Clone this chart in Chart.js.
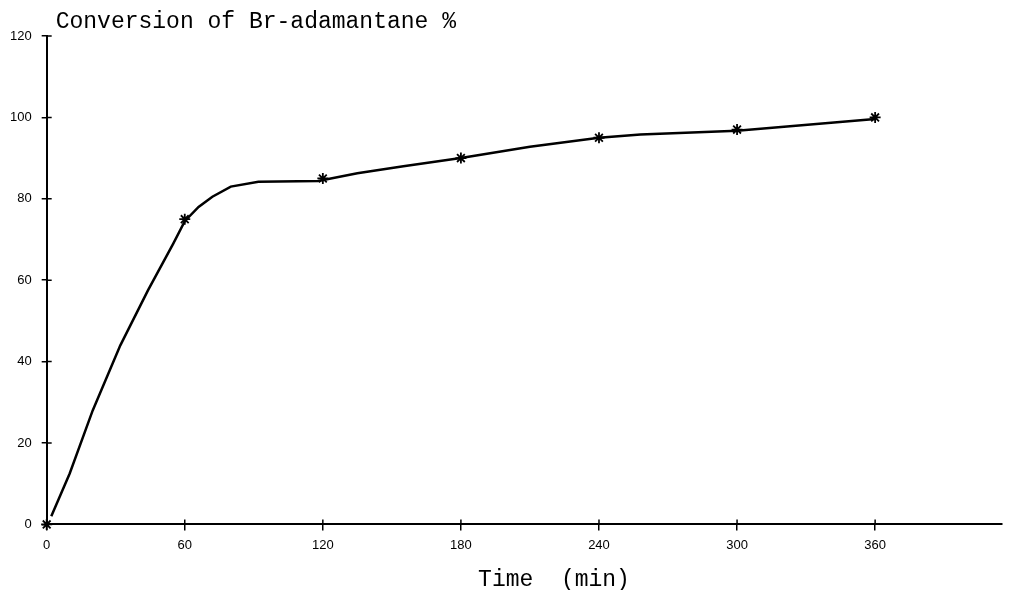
<!DOCTYPE html>
<html>
<head>
<meta charset="utf-8">
<script src="https://cdn.jsdelivr.net/npm/chart.js@4/dist/chart.umd.min.js"></script>
<style>
  html, body { margin: 0; padding: 0; background: #fff; }
  #wrap { width: 1009px; height: 590px; }
</style>
</head>
<body>
<div id="wrap"><canvas id="chart" width="1009" height="590"></canvas></div>
<script>
const chartTitle = "Conversion of Br-adamantane %";
const xTitle = "Time  (min)";

// measured points (asterisks)
const markerTimes = [0, 60, 120, 180, 240, 300, 360];
const markerConv = [0, 75, 85, 90, 95, 97, 100];

// fitted curve
const curveTimes = [2, 10, 20, 32, 44, 55, 60, 66, 72, 80, 92, 118, 135, 155, 180, 210, 240, 258, 300, 360];
const curveConv = [2, 12.5, 28, 44, 57.5, 69, 74.5, 78, 80.5, 83, 84.2, 84.4, 86.3, 88, 90, 92.8, 95, 95.8, 96.7, 99.6];

const xTicks = [0, 60, 120, 180, 240, 300, 360];

const tickFont = { family: '"Liberation Sans", Arial, sans-serif', size: 13 };

// texts in courier style + inner half of the crossing ticks
const extras = {
    id: 'extras',
    afterDraw(chart) {
        const ctx = chart.ctx;
        const xs = chart.scales.x, ys = chart.scales.y;
        ctx.save();
        ctx.strokeStyle = '#000';
        ctx.lineWidth = 1.5;
        ctx.beginPath();
        xs.ticks.forEach(t => {
            if (t.value === 0) return;
            const px = xs.getPixelForValue(t.value);
            ctx.moveTo(px, xs.top);
            ctx.lineTo(px, xs.top - 5);
        });
        ys.ticks.forEach(t => {
            if (t.value === 0) return;
            const py = ys.getPixelForValue(t.value);
            ctx.moveTo(ys.right, py);
            ctx.lineTo(ys.right + 5, py);
        });
        ctx.stroke();

        ctx.fillStyle = '#000';
        ctx.font = '23px "Liberation Mono", "Courier New", monospace';
        ctx.textBaseline = 'alphabetic';
        ctx.textAlign = 'left';
        ctx.fillText(chartTitle, chart.chartArea.left + 9, 28);
        ctx.textAlign = 'center';
        ctx.textBaseline = 'middle';
        ctx.fillText(xTitle, 554, 580);
        ctx.restore();
    }
};

const ctx = document.getElementById('chart').getContext('2d');

const chart = new Chart(ctx, {
    type: 'scatter',
    data: {
        datasets: [{
            label: 'curve',
            data: curveTimes.map((t, i) => ({ x: t, y: curveConv[i] })),
            showLine: true,
            borderColor: '#000',
            borderWidth: 2.5,
            pointRadius: 0,
            tension: 0
        }, {
            label: 'measured',
            data: markerTimes.map((t, i) => ({ x: t, y: markerConv[i] })),
            showLine: false,
            pointStyle: 'star',
            pointRadius: 5.5,
            borderColor: '#000',
            backgroundColor: '#000',
            pointBorderWidth: 1.8,
            clip: false
        }]
    },
    options: {
        responsive: false,
        animation: false,
        layout: { padding: { left: 0, right: 0, top: 36, bottom: 30 } },
        plugins: {
            legend: { display: false },
            tooltip: { enabled: false }
        },
        scales: {
            x: {
                type: 'linear',
                min: 0,
                max: 415,
                afterBuildTicks: scale => {
                    scale.ticks = xTicks.map(v => ({ value: v }));
                },
                border: { color: '#000', width: 2 },
                grid: { drawOnChartArea: false, color: '#000', lineWidth: 1.5, tickLength: 6 },
                ticks: { color: '#000', font: tickFont, padding: 7, maxRotation: 0 }
            },
            y: {
                min: 0,
                max: 120,
                ticks: { stepSize: 20, color: '#000', font: tickFont, padding: 10 },
                border: { color: '#000', width: 2 },
                grid: { drawOnChartArea: false, color: '#000', lineWidth: 1.5, tickLength: 5 }
            }
        }
    },
    plugins: [extras]
});
</script>
</body>
</html>
